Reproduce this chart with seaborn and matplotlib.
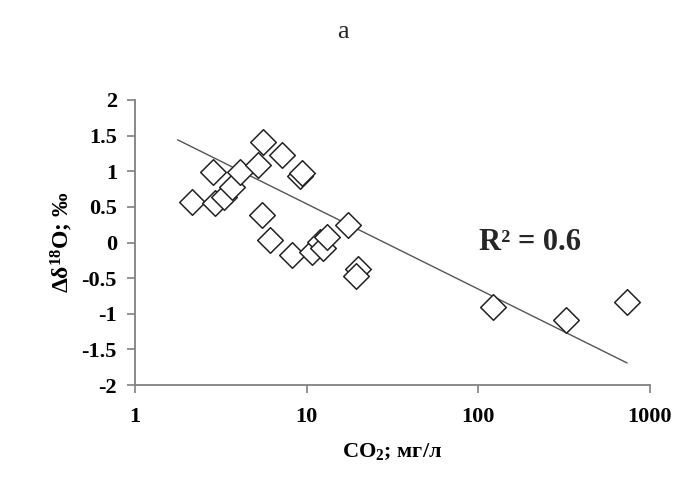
import numpy as np
import pandas as pd
import matplotlib
matplotlib.use("Agg")
import matplotlib.pyplot as plt
import seaborn as sns

# data
co2 = [2.16, 2.86, 2.92, 3.31, 3.66, 4.09, 5.23, 5.59, 7.15, 9.2, 9.35,
       5.47, 6.11, 8.18, 10.7, 11.95, 12.5, 13.1, 17.5, 20.0, 19.5,
       122, 324, 736]
d18o = [0.57, 0.99, 0.55, 0.64, 0.78, 0.99, 1.09, 1.41, 1.23, 0.93, 0.97,
        0.39, 0.035, -0.17, -0.13, 0.01, -0.08, 0.08, 0.25, -0.37, -0.47,
        -0.91, -1.09, -0.83]
trend_x = [1.77, 736]
trend_intercept = 1.738
trend_slope = -1.196
r2_label = "R² = 0.6"
x_ticks = [1, 10, 100, 1000]
x_ticklabels = ["1", "10", "100", "1000"]
y_ticks = [-2, -1.5, -1, -0.5, 0, 0.5, 1, 1.5, 2]
y_ticklabels = ["-2", "-1.5", "-1", "-0.5", "0", "0.5", "1", "1.5", "2"]

sns.set_theme(style="white")
plt.rcParams['font.family'] = ['Liberation Serif', 'DejaVu Serif']
plt.rcParams['mathtext.fontset'] = 'custom'
plt.rcParams['mathtext.rm'] = 'Liberation Serif:bold'
plt.rcParams['mathtext.bf'] = 'Liberation Serif:bold'
plt.rcParams['mathtext.it'] = 'Liberation Serif:bold'

fig = plt.figure(figsize=(6.86, 4.95), dpi=100)
ax = fig.add_axes([0.1968, 0.2222, 0.7507, 0.5758])

df = pd.DataFrame({"x": co2, "y": d18o})
tx = np.array(trend_x, dtype=float)
tdf = pd.DataFrame({"x": tx, "y": trend_intercept + trend_slope * np.log10(tx)})

sns.lineplot(data=tdf, x="x", y="y", ax=ax, color="#555555", linewidth=1.0)
sns.scatterplot(data=df, x="x", y="y", ax=ax, marker="D", s=170,
                facecolor="white", edgecolor="#222222", linewidth=1.1, zorder=3)

ax.set_xscale("log")
ax.set_xlim(1, 1000)
ax.set_ylim(-2, 2)
ax.set_xticks(x_ticks)
ax.set_xticklabels(x_ticklabels)
ax.minorticks_off()
ax.set_yticks(y_ticks)
ax.set_yticklabels(y_ticklabels)

for lab in ax.get_xticklabels() + ax.get_yticklabels():
    lab.set_fontweight("bold")
    lab.set_fontsize(16)
    lab.set_color("black")

ax.tick_params(axis="x", which="major", direction="out", length=6,
               width=1.2, color="#808080", bottom=True, pad=10)
ax.tick_params(axis="y", which="major", direction="out", length=6,
               width=1.2, color="#808080", left=True, pad=7)

for side in ["top", "right"]:
    ax.spines[side].set_visible(False)
for side in ["left", "bottom"]:
    ax.spines[side].set_color("#808080")
    ax.spines[side].set_linewidth(1.3)

ax.set_xlabel("CO$_{2}$; мг/л", fontsize=16, fontweight="bold", color="black", labelpad=10)
ax.set_ylabel("Δδ$^{18}$O; ‰", fontsize=17, fontweight="bold", color="black", labelpad=5)
ax.grid(False)

ax.text(200, 0.0, r2_label, fontsize=22, fontweight="bold", ha="center", va="center")
fig.text(0.5, 0.935, "a", fontsize=19, ha="center", va="center")

fig.savefig("out.png", dpi=100, facecolor="white")
